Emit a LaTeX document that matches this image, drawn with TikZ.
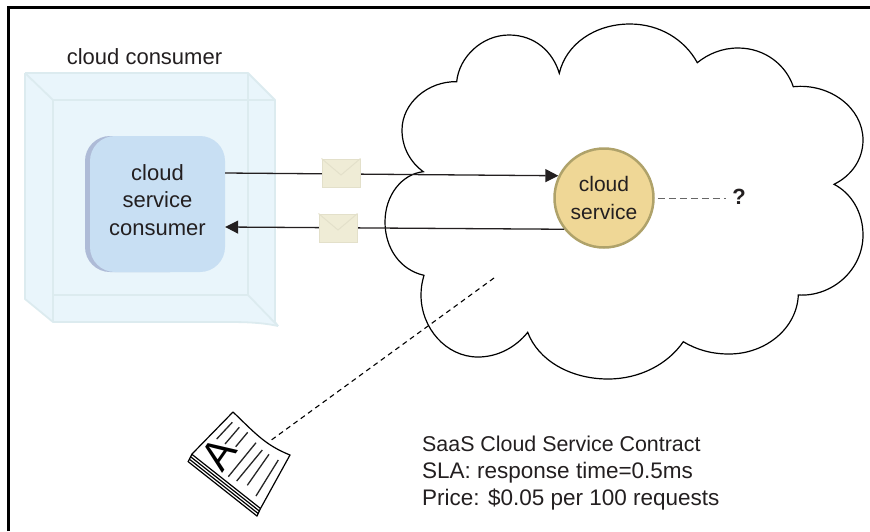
\documentclass[tikz,border=0pt]{standalone}
\usepackage{fontspec}
\setmainfont{Liberation Sans}
\usetikzlibrary{arrows.meta}
\definecolor{cubefill}{HTML}{E9F5FB}
\definecolor{cubeline}{HTML}{DCEBEF}
\definecolor{boxfront}{HTML}{C8DFF3}
\definecolor{boxback}{HTML}{AEBBD7}
\definecolor{svcfill}{HTML}{EFD796}
\definecolor{svcline}{HTML}{AFA26A}
\definecolor{envfill}{HTML}{EFECD6}
\definecolor{envline}{HTML}{E3E0CA}
\definecolor{ink}{HTML}{231F20}
\tikzset{
  x=1pt,y=-1pt,
  label text/.style={font=\fontsize{22}{27.5}\selectfont,text=ink,align=center,inner sep=0pt},
  service text/.style={font=\fontsize{21}{27.5}\selectfont,text=ink,align=center,inner sep=0pt},
  term text/.style={text=ink,anchor=base west,inner sep=0pt},
  cubeedge/.style={draw=cubeline,line width=1.8pt,line join=round},
  flow/.style={draw=ink,line width=1.3pt},
  flowtip/.style={-{Triangle[length=13pt,width=13pt]}},
  envelope/.style={draw=envline,fill=envfill,line width=1pt,minimum width=38pt,minimum height=28pt,inner sep=0pt},
  envflap/.style={draw=envline,line width=1pt},
  docline/.style={draw=black,line width=1.2pt},
  docrule/.style={draw=black!85,line width=1.3pt},
}
\begin{document}
\begin{tikzpicture}
\useasboundingbox (0,0) rectangle (870,531);
\draw[black,line width=3pt] (8,531) -- (8,7) -- (870,7);
% cloud
\draw[black,fill=white,line width=1.2pt,line join=miter,miter limit=10]
  (423.3,171.7) .. controls (410,162) and (402,147) .. (402,130)
  .. controls (402,103) and (428,81) .. (456.7,81.7)
  .. controls (459,57) and (482,35) .. (509,35)
  .. controls (535,35) and (553,52) .. (559.3,73.3)
  .. controls (566,44) and (595,24) .. (630,24)
  .. controls (660,24) and (685,40) .. (697.3,62.7)
  .. controls (708,54) and (722,48) .. (738,48)
  .. controls (765,48) and (786,65) .. (793.3,86.7)
  .. controls (830,83) and (863,108) .. (863,140)
  .. controls (863,160) and (851,176) .. (834,184.3)
  .. controls (851,193) and (863,212) .. (863,235)
  .. controls (863,270) and (832,297) .. (798.3,295)
  .. controls (797,328) and (766,354) .. (729,354)
  .. controls (712,354) and (697,350) .. (683.3,341.7)
  .. controls (668,364) and (640,379) .. (608,379)
  .. controls (570,379) and (538,360) .. (527.7,332.3)
  .. controls (516,347) and (498,357) .. (478,357)
  .. controls (446,357) and (421,328) .. (421,295)
  .. controls (421,288) and (422,282) .. (424,275.3)
  .. controls (400,270) and (385,248) .. (385,222)
  .. controls (385,195) and (402,174) .. (423.3,171.7) -- cycle;
% cube
\fill[cubefill] (25,73) -- (248,73) -- (275,100) -- (275,322) .. controls (277,324) .. (278,326)
  .. controls (260,322) and (240,322) .. (225,322) -- (53,322) -- (25,299) -- cycle;
\draw[cubeedge] (25,73) -- (248,73) -- (275,100) -- (275,322) -- (278,326);
\draw[cubeedge] (25,73) -- (53,100) -- (275,100);
\draw[cubeedge] (25,73) -- (25,299) -- (53,322) -- (225,322) .. controls (240,322) and (260,322) .. (278,326);
\draw[cubeedge] (53,100) -- (53,322);
\draw[cubeedge] (248,73) -- (248,295) -- (278,326);
\draw[cubeedge] (53,295) -- (248,295);
\node[label text] (title) at (144.5,57) {cloud consumer};
% consumer box
\node[fill=boxback,rounded corners=25pt,minimum width=110pt,minimum height=136pt,inner sep=0pt] (consumerback) at (140,204) {};
\node[fill=boxfront,rounded corners=25pt,minimum width=135pt,minimum height=136pt,inner sep=0pt] (consumer) at (157.5,204) {};
\node[label text] (consumertext) at (157.5,200) {cloud\\service\\consumer};
% service
\node[circle,fill=svcfill,draw=svcline,line width=2.5pt,minimum size=99pt,inner sep=0pt,service text] (service) at (604,198) {cloud\\service};
% flows
\draw[flow,flowtip] ([yshift=31pt]consumer.east) -- (service.154);
\draw[flow,flowtip] (service.218) -- ([yshift=-23pt]consumer.east);
\node[envelope] (env1) at (341,173) {};
\draw[envflap] (env1.north west) -- (341,175) -- (env1.north east);
\node[envelope] (env2) at (338,228) {};
\draw[envflap] (env2.north west) -- (338,230) -- (env2.north east);
% question
\node[font=\fontsize{22}{24}\selectfont\bfseries,text=ink,inner sep=0pt] (q) at (739,197) {?};
\draw[draw=black!60,line width=0.9pt,dash pattern=on 7pt off 4pt] ([xshift=3pt]service.east) -- ([xshift=-6pt]q.west |- service.east);
% contract
\coordinate (dashend) at (494,278);
\coordinate (docedge) at (270,441);
\draw[black,line width=1.1pt,dash pattern=on 5pt off 4pt] (dashend) -- (docedge);
% document
\fill[white] (233,412) .. controls (255,433) and (265,445) .. (290,455) -- (257,516) -- (188,462) -- (192,454) -- cycle;
\foreach \d in {0,1,2,3} {
  \draw[docline] ({191.5-\d*1.05},{454+\d*2.6}) -- ({260.5-\d*1.05},{508.5+\d*2.6});
}
\draw[docline] (188,462) -- (192,454);
\draw[docline,line join=round] (192,454) -- (233,412) .. controls (255,433) and (265,445) .. (290,455) -- (260.5,508.5) -- (257,516);
\node[font=\fontsize{42}{42}\selectfont,rotate=55,inner sep=0pt,text=black] (letter) at (219,454) {A};
\foreach \a/\b/\c/\e in {216.7/439/232.3/422.3, 225/444/239.3/427.3, 235.7/446.7/247.7/432.3,
  228.3/476.7/256/442.7, 236.7/481/262.3/450, 247.3/485.3/269/454.3, 256/496/278.3/460}
  \draw[docrule] (\a,\b) -- (\c,\e);
% contract text
\node[term text,font=\fontsize{21.4}{27}\selectfont] (term1) at (422,451) {SaaS Cloud Service Contract};
\node[term text,font=\fontsize{22.5}{27}\selectfont] (term2) at (422,478) {SLA: response time=0.5ms};
\node[term text,font=\fontsize{22.5}{27}\selectfont] (term3) at (422,505) {Price: \$0.05 per 100 requests};
\end{tikzpicture}
\end{document}
